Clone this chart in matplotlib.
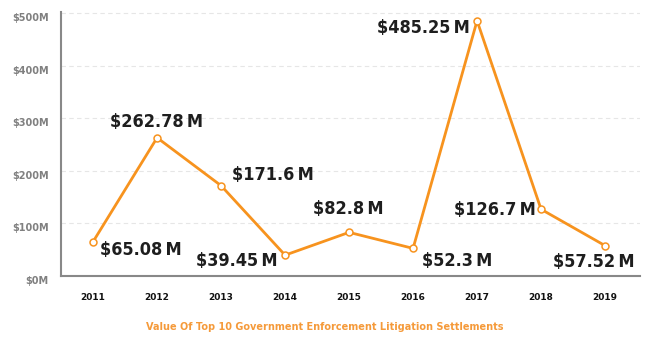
import matplotlib.pyplot as plt

years = ['2011', '2012', '2013', '2014', '2015', '2016', '2017', '2018', '2019']
values = [65.08, 262.78, 171.6, 39.45, 82.8, 52.3, 485.25, 126.7, 57.52]
labels = ['$65.08\u2009M', '$262.78\u2009M', '$171.6\u2009M', '$39.45\u2009M', '$82.8\u2009M',
          '$52.3\u2009M', '$485.25\u2009M', '$126.7\u2009M', '$57.52\u2009M']
yticks = [0, 100, 200, 300, 400, 500]
ytick_labels = ['$0M', '$100M', '$200M', '$300M', '$400M', '$500M']

# label offsets in pixels (center of text relative to point)
offsets = [(48, -8), (-1, 16), (52, 11), (-48, -6), (-1, 23),
           (44, -13), (-54, -7), (-46, -1), (-11, -16)]

orange = '#f7931e'

fig = plt.figure(figsize=(6.5, 3.51), dpi=100)
ax = fig.add_axes([0.094, 0.214, 0.891, 0.752])

x = list(range(len(years)))
ax.plot(x, values, color=orange, lw=2, marker='o', ms=5,
        mfc='white', mec=orange, mew=1.1, zorder=3)

for i, (v, lab, off) in enumerate(zip(values, labels, offsets)):
    ax.annotate(lab, (i, v), xytext=off, textcoords='offset pixels',
                ha='center', va='center', fontsize=13, fontweight='bold',
                family='DejaVu Sans', fontstretch='condensed', color='#1e1e1e')

ax.set_xlim(-0.5, 8.55)
ax.set_ylim(0, 502)
ax.set_xticks(x)
ax.set_xticklabels(years, fontsize=6.5, fontweight='bold', color='#111111')
ax.set_yticks(yticks)
ax.set_yticklabels(ytick_labels, fontsize=7, fontweight='bold', color='#808080')
for t in ax.get_yticklabels():
    t.set_verticalalignment('top')
ax.tick_params(axis='both', length=0)
ax.tick_params(axis='x', pad=12)
ax.tick_params(axis='y', pad=9)

ax.grid(axis='y', color='#e6e6e6', linestyle=(0, (4, 3)), lw=0.8)
ax.set_axisbelow(True)
for s in ['top', 'right']:
    ax.spines[s].set_visible(False)
for s in ['left', 'bottom']:
    ax.spines[s].set_color('#888888')
    ax.spines[s].set_linewidth(1.5)

fig.text(0.5, 0.068, 'Value Of Top 10 Government Enforcement Litigation Settlements',
         ha='center', va='center', fontsize=7, fontweight='bold', color='#f59a3a')

fig.savefig('out.png', dpi=100)
